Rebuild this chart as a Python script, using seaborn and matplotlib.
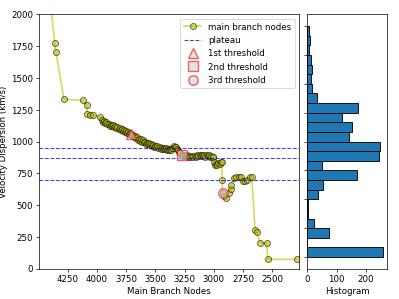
import numpy as np
import pandas as pd
import matplotlib
matplotlib.use("Agg")
import matplotlib.pyplot as plt
import seaborn as sns

# ---------------- data ----------------
nodes = [4493, 4361, 4350, 4282, 4122, 4087, 4082, 4059, 4031, 3973,
         3959, 3948, 3937, 3928, 3918, 3910, 3899, 3890, 3881, 3872,
         3862, 3851, 3843, 3834, 3824, 3815, 3806, 3797, 3788, 3779,
         3770, 3761, 3752, 3744, 3735, 3726, 3718, 3710,
         3701, 3692, 3683, 3674, 3666, 3657, 3648, 3640, 3631, 3622,
         3613, 3604, 3596, 3587, 3578, 3569, 3561, 3552, 3543, 3534,
         3526, 3517, 3508, 3499, 3490, 3482, 3473, 3464, 3455, 3446,
         3437, 3429, 3420, 3411, 3402, 3393, 3385, 3376, 3367, 3358,
         3349, 3340, 3331, 3322, 3313, 3304, 3295, 3286, 3272,
         3260, 3250, 3240, 3231, 3220, 3210, 3203, 3190, 3175, 3162,
         3150, 3140, 3132, 3120, 3110, 3103, 3095, 3085, 3075, 3060,
         3050, 3040, 3032, 3020, 3010, 3004, 2995, 2989, 2980, 2970,
         2961, 2950, 2940, 2932,
         2927, 2925, 2910, 2895, 2870, 2855, 2850, 2830, 2810, 2785,
         2765, 2752, 2735, 2718, 2690, 2675,
         2646, 2632, 2603, 2546, 2537, 2290]
velocity = [2920, 1774, 1701, 1334, 1324, 1289, 1214, 1210, 1208, 1192,
            1166, 1152, 1160, 1143, 1150, 1135, 1141, 1126, 1133, 1120,
            1127, 1112, 1120, 1104, 1114, 1098, 1106, 1092, 1100, 1085,
            1093, 1078, 1086, 1070, 1078, 1062, 1068, 1057,
            1046, 1053, 1036, 1044, 1026, 1034, 1016, 1024, 1008, 1017,
            1000, 1010, 993, 1000, 984, 992, 977, 986, 970, 979,
            964, 973, 960, 968, 954, 962, 950, 958, 945, 953,
            941, 949, 938, 946, 934, 942, 930, 938, 935, 950,
            946, 966, 958, 960, 940, 935, 916, 912, 896,
            890, 898, 886, 895, 882, 889, 876, 884, 878, 889,
            882, 893, 886, 897, 889, 898, 886, 893, 882, 891,
            884, 892, 880, 888, 876, 882, 840, 815, 824, 818,
            829, 822, 836, 841,
            697, 593, 575, 558, 595, 625, 660, 711, 720, 725,
            722, 690, 688, 700, 718, 723,
            304, 288, 200, 200, 74, 74]

plateaus = [953, 872, 701]

thr_nodes = [3710, 3272, 2925]
thr_vals = [1057, 896, 593]
thr_markers = ["^", "s", "o"]
thr_labels = ["1st threshold", "2nd threshold", "3rd threshold"]

hist_edges = list(np.linspace(0, 2000, 25))
hist_counts = [259, 0, 74, 23, 2, 3, 36, 52, 168, 51, 245, 249,
               143, 151, 119, 172, 32, 17, 14, 16, 11, 7, 8, 6]

x_limits = (4493, 2270)
y_limits = (0, 2000)

# ---------------- figure ----------------
fig = plt.figure(figsize=(6.4, 4.8), dpi=62.35)
ax = fig.add_axes([0.0985, 0.1013, 0.6509, 0.8495])
axh = fig.add_axes([0.7702, 0.1013, 0.1997, 0.8495])

df = pd.DataFrame({"node": nodes, "vel": velocity})
sns.lineplot(data=df, x="node", y="vel", ax=ax, sort=False, estimator=None,
             color="y", marker="o", markersize=7, markeredgecolor="k",
             markeredgewidth=1, linewidth=2, alpha=0.6,
             label="main branch nodes")

for i, p in enumerate(plateaus):
    ax.axhline(p, color="b", ls="--", lw=1.2, alpha=0.75,
               label="plateau" if i == 0 else None)

for xn, yv, m, lab in zip(thr_nodes, thr_vals, thr_markers, thr_labels):
    ax.plot([xn], [yv], marker=m, ls="none", markersize=11,
            markerfacecolor="#d0d0d0", markeredgecolor="r",
            markeredgewidth=1.6, alpha=0.6, label=lab)

ax.set_xlim(*x_limits)
ax.set_ylim(*y_limits)
ax.set_xlabel("Main Branch Nodes")
ax.set_ylabel("Velocity Dispersion (km/s)")
ax.legend(loc="upper right")

centers = [(hist_edges[i] + hist_edges[i + 1]) / 2 for i in range(len(hist_counts))]
hdf = pd.DataFrame({"vel": centers, "count": hist_counts})
sns.histplot(data=hdf, y="vel", weights="count", bins=hist_edges, ax=axh,
             color="#1f77b4", edgecolor="k", linewidth=1, alpha=1)
axh.set_xlabel("Histogram")
axh.set_ylabel("")
axh.tick_params(labelleft=False)

fig.savefig("out.png", dpi=fig.dpi)
